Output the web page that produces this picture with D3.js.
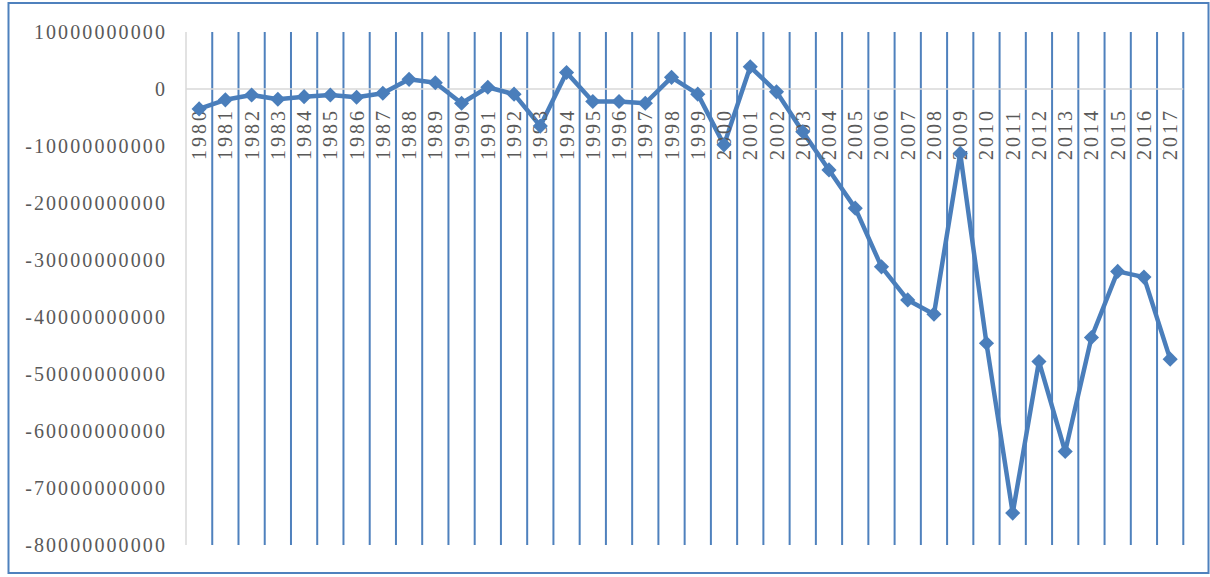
<!DOCTYPE html>
<html>
<head>
<meta charset="utf-8">
<script src="https://cdn.jsdelivr.net/npm/d3@7"></script>
<style>
  body { margin: 0; background: #fff; }
  text { font-family: "Liberation Serif", "Times New Roman", serif; fill: #595959; }
</style>
</head>
<body>
<script>
// categories (years) and values
var years = [1980, 1981, 1982, 1983, 1984, 1985, 1986, 1987, 1988, 1989,
    1990, 1991, 1992, 1993, 1994, 1995, 1996, 1997, 1998, 1999,
    2000, 2001, 2002, 2003, 2004, 2005, 2006, 2007, 2008, 2009,
    2010, 2011, 2012, 2013, 2014, 2015, 2016, 2017];

var values = [-3.5e9, -1.9e9, -1.05e9, -1.8e9, -1.35e9, -1.05e9, -1.45e9, -0.75e9, 1.7e9, 1.1e9,
    -2.5e9, 0.3e9, -0.9e9, -6.5e9, 2.9e9, -2.2e9, -2.2e9, -2.5e9, 2.05e9, -0.9e9,
    -9.8e9, 3.9e9, -0.5e9, -7.5e9, -14.2e9, -20.9e9, -31.2e9, -37.0e9, -39.5e9, -11.3e9,
    -44.6e9, -74.4e9, -47.8e9, -63.6e9, -43.6e9, -32.0e9, -33.0e9, -47.4e9];

var yTicks = [10e9, 0, -10e9, -20e9, -30e9, -40e9, -50e9, -60e9, -70e9, -80e9];

var width = 1210;
var height = 577;
var blue = "#4f81bd";

var svg = d3.select("body")
    .append("svg")
    .attr("width", width)
    .attr("height", height);

// chart border
svg.append("rect")
    .attr("x", 8.5)
    .attr("y", 3)
    .attr("width", 1200)
    .attr("height", 570)
    .attr("fill", "none")
    .attr("stroke", blue)
    .attr("stroke-width", 2);

var x = d3.scaleBand()
    .domain(years)
    .range([186, 1183.3])
    .padding(0);

var y = d3.scaleLinear()
    .domain([-80e9, 10e9])
    .range([545, 32]);

// vertical grid lines at the right edge of each category
svg.append("g")
    .selectAll("line")
    .data(years)
    .enter()
    .append("line")
    .attr("x1", function(d) { return x(d) + x.bandwidth(); })
    .attr("x2", function(d) { return x(d) + x.bandwidth(); })
    .attr("y1", y(10e9))
    .attr("y2", y(-80e9))
    .attr("stroke", blue)
    .attr("stroke-width", 2);

// value axis line and zero line
svg.append("line")
    .attr("x1", 186).attr("x2", 186)
    .attr("y1", y(10e9)).attr("y2", y(-80e9))
    .attr("stroke", "#d9d9d9")
    .attr("stroke-width", 1.5);

svg.append("line")
    .attr("x1", 186).attr("x2", 1183.3)
    .attr("y1", y(0)).attr("y2", y(0))
    .attr("stroke", "#d9d9d9")
    .attr("stroke-width", 1.5);

// y axis labels
var yAxis = d3.axisLeft(y)
    .tickValues(yTicks)
    .tickSize(0)
    .tickPadding(0)
    .tickFormat(function(d) { return String(Math.round(d)); });

var gy = svg.append("g")
    .attr("transform", "translate(167,0)")
    .call(yAxis);
gy.select(".domain").remove();
gy.selectAll("text")
    .style("font-size", "20px")
    .style("letter-spacing", "2.1px")
    .style("fill", "#595959")
    .style("font-family", "'Liberation Serif', 'Times New Roman', serif");

// the series line
var line = d3.line()
    .x(function(d, i) { return x(years[i]) + x.bandwidth() / 2; })
    .y(function(d) { return y(d); });

svg.append("path")
    .datum(values)
    .attr("d", line)
    .attr("fill", "none")
    .attr("stroke", "#4a7ebb")
    .attr("stroke-width", 4.5)
    .attr("stroke-linejoin", "round");

// category labels, rotated, reading upward from below the zero line
svg.append("g")
    .selectAll("text")
    .data(years)
    .enter()
    .append("text")
    .attr("transform", function(d) {
        return "translate(" + (x(d) + x.bandwidth() / 2) + ",160) rotate(-90)";
    })
    .attr("dy", "0.35em")
    .attr("text-anchor", "start")
    .style("font-size", "20px")
    .style("letter-spacing", "3px")
    .text(function(d) { return d; });

// diamond markers
svg.append("g")
    .selectAll("path")
    .data(values)
    .enter()
    .append("path")
    .attr("d", d3.symbol(d3.symbolSquare, 115))
    .attr("transform", function(d, i) {
        return "translate(" + (x(years[i]) + x.bandwidth() / 2) + "," + y(d) + ") rotate(45)";
    })
    .attr("fill", "#4a7ebb");
</script>
</body>
</html>
